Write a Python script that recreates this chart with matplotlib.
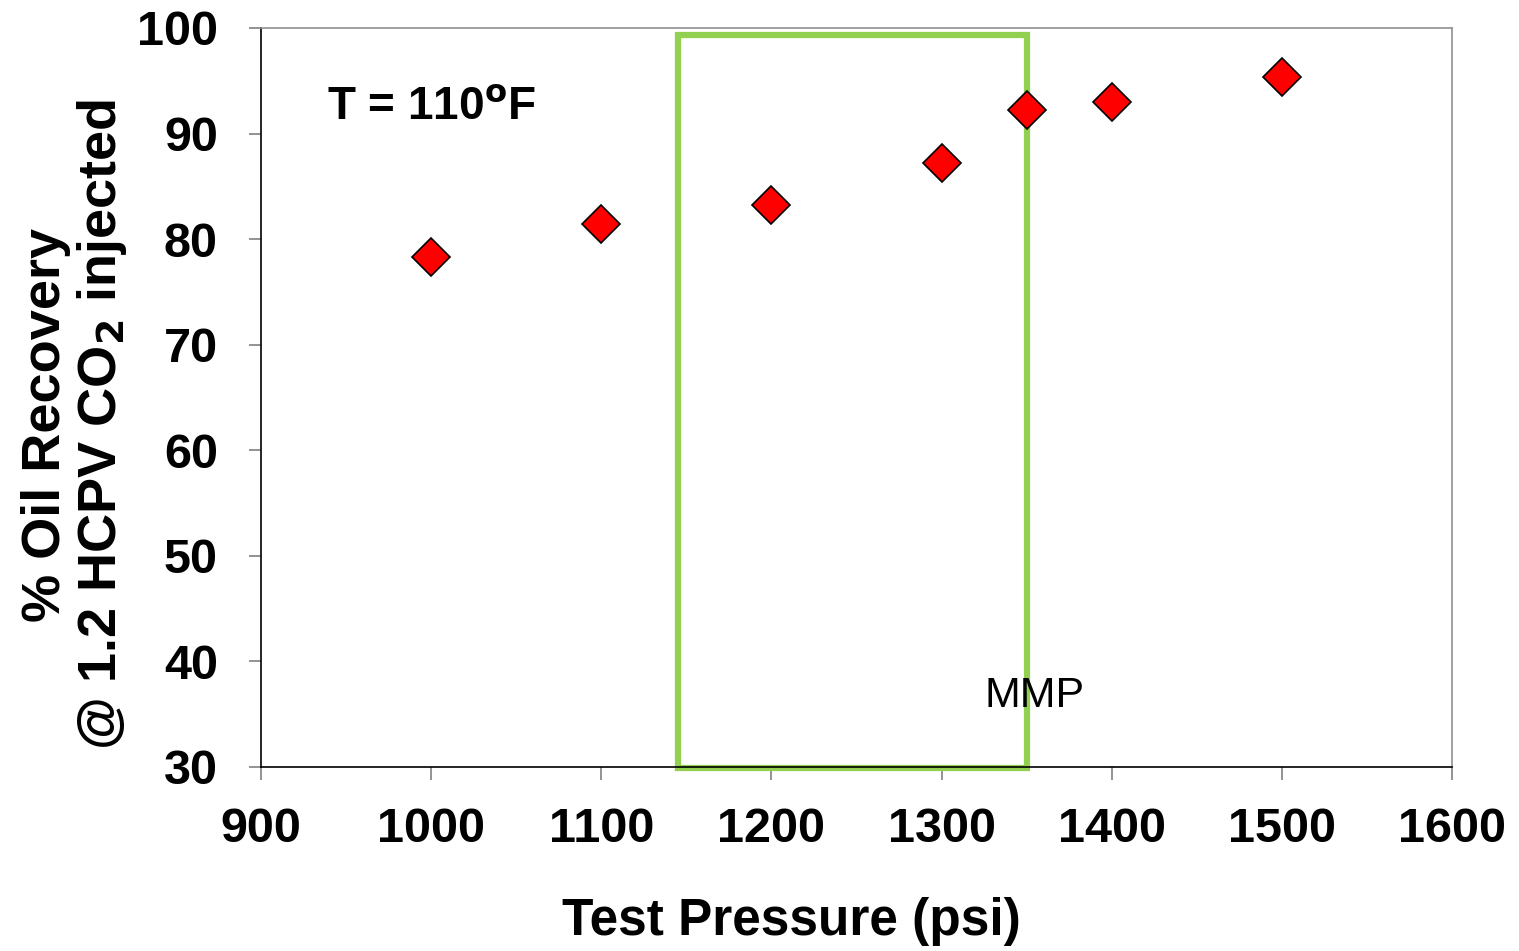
import numpy as np
import matplotlib.pyplot as plt
from matplotlib.patches import Rectangle

plt.rcParams['font.family'] = ['Liberation Sans', 'DejaVu Sans']

# datos
presion = [1000, 1100, 1200, 1300, 1350, 1400, 1500]
recuperacion = [78.3, 81.4, 83.2, 87.2, 92.2, 93.0, 95.4]

x_ticks = [900, 1000, 1100, 1200, 1300, 1400, 1500, 1600]
y_ticks = [30, 40, 50, 60, 70, 80, 90, 100]

# zona MMP (caja verde)
mmp_x0, mmp_x1 = 1145, 1350
mmp_y0, mmp_y1 = 29.9, 99.3

fig = plt.figure(figsize=(15.19, 9.51), dpi=100)
ax = fig.add_axes([0.1718, 0.1935, 0.9559 - 0.1718, 0.9706 - 0.1935])

ax.plot(presion, recuperacion, linestyle='none', marker='D', markersize=19,
        markerfacecolor='#ff0000', markeredgecolor='black', markeredgewidth=1.2,
        zorder=3)

caja = Rectangle((mmp_x0, mmp_y0), mmp_x1 - mmp_x0, mmp_y1 - mmp_y0,
                 fill=False, edgecolor='#92d050', linewidth=4.5, clip_on=False,
                 zorder=2)
ax.add_patch(caja)

ax.set_xlim(900, 1600)
ax.set_ylim(30, 100)
ax.set_xticks(x_ticks)
ax.set_yticks(y_ticks)
ax.tick_params(axis='both', direction='out', length=9, width=1.2, color='#808080',
               labelsize=35)
ax.tick_params(axis='x', pad=20)
ax.tick_params(axis='y', pad=22)
for lab in ax.get_xticklabels() + ax.get_yticklabels():
    lab.set_fontweight('bold')

ax.spines['left'].set_color('black')
ax.spines['bottom'].set_color('black')
ax.spines['top'].set_color('#909090')
ax.spines['right'].set_color('#909090')
for s in ax.spines.values():
    s.set_linewidth(1.2)

ax.set_xlabel('Test Pressure (psi)', fontsize=37, fontweight='bold')
ax.xaxis.set_label_coords(0.445, -0.176)
ax.set_ylabel('% Oil Recovery\n@ 1.2 HCPV CO$_\\mathbf{2}$ injected', fontsize=39,
              fontweight='bold', linespacing=1.1)
ax.yaxis.set_label_coords(-0.111, 0.463)

ax.text(939, 91.3, 'T = 110$^\\mathbf{o}$F', fontsize=33, fontweight='bold',
        va='baseline', ha='left')
ax.text(1325, 35.7, 'MMP', fontsize=31, va='baseline', ha='left')

fig.savefig('out.png', dpi=100)
